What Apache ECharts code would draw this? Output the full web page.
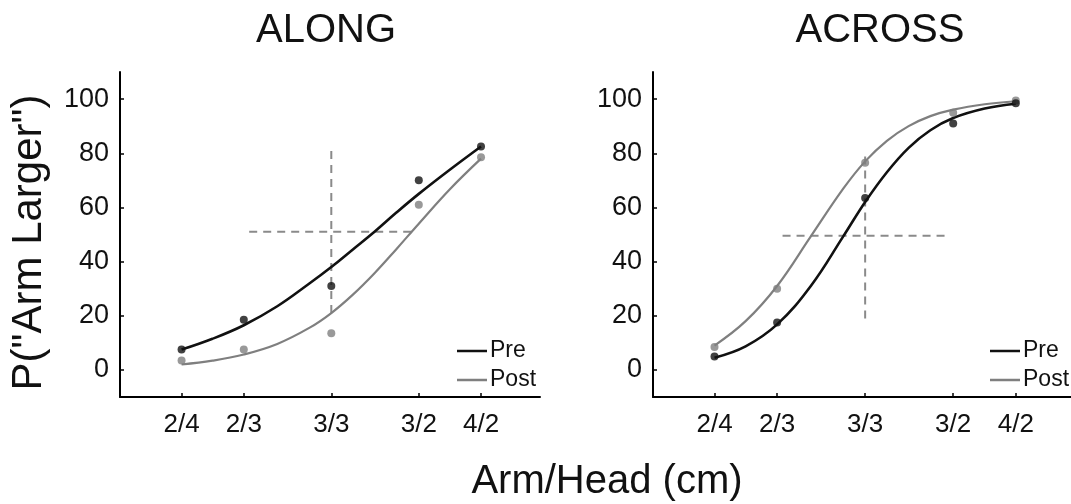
<!DOCTYPE html>
<html>
<head>
<meta charset="utf-8">
<script src="https://cdn.jsdelivr.net/npm/echarts@6/dist/echarts.min.js"></script>
<style>
html,body{margin:0;padding:0;background:#fff;}
#chart{width:1071px;height:504px;}
</style>
</head>
<body>
<div id="chart"></div>
<script>
// Arm/Head ratio categories and their positions on a log (ln) axis
const ratioLabels = ['2/4', '2/3', '3/3', '3/2', '4/2'];
const ratioPos = [-0.693, -0.405, 0, 0.405, 0.693];
const yTicks = [0, 20, 40, 60, 80, 100];

// observed proportions (%)
const alongPre = [7.5, 18.5, 31, 70, 82.5];
const alongPost = [3.5, 7.5, 13.5, 61, 78.5];
const acrossPre = [5, 17.5, 63.5, 91, 98.5];
const acrossPost = [8.5, 30, 76.5, 95, 99.5];

// fitted psychometric curves at these positions
const curveX = [-0.693, -0.55, -0.405, -0.25, -0.1, 0, 0.1, 0.2, 0.3, 0.405, 0.55, 0.693];
const alongPreFit = [7.5, 11.5, 16.5, 23.5, 32, 38, 44.5, 51, 58, 65, 74, 82.5];
const alongPostFit = [2, 3.4, 5.7, 9.6, 15.6, 21, 27.8, 35.7, 44.5, 54, 66.8, 78];
const acrossPreFit = [4.5, 8.7, 16.8, 31, 49.4, 62, 73, 82, 88.5, 93, 96.5, 98.3];
const acrossPostFit = [9, 18, 31, 49.3, 67, 77, 84.6, 90, 93.7, 96.1, 98.1, 99.2];

// dashed reference lines: [xStart, xEnd, y] and [x, yStart, yEnd]
const alongRefH = [-0.38, 0.38, 51];
const alongRefV = [0, 21, 82];
const acrossRefH = [-0.38, 0.39, 49.5];
const acrossRefV = [0, 19, 80];

const FONT = '"Liberation Sans", Arial, Helvetica, sans-serif';
const PRE_COLOR = '#111111';
const POST_COLOR = '#7f7f7f';
const DASH_COLOR = '#8a8a8a';

const pair = (xs, ys) => xs.map((x, i) => [x, ys[i]]);

function xAxisFor(gridIndex, min, max) {
  return {
    type: 'value', gridIndex, min, max,
    axisLine: { show: true, onZero: false, lineStyle: { color: '#000', width: 2 } },
    axisTick: { show: true, inside: true, length: 4, customValues: ratioPos, lineStyle: { color: '#000', width: 1.5 } },
    axisLabel: {
      show: true, customValues: ratioPos, margin: 15,
      fontFamily: FONT, fontSize: 26, color: '#111',
      formatter: v => {
        const i = ratioPos.findIndex(p => Math.abs(p - v) < 1e-6);
        return i >= 0 ? ratioLabels[i] : '';
      }
    },
    splitLine: { show: false }
  };
}

function yAxisFor(gridIndex, withName) {
  const ax = {
    type: 'value', gridIndex, min: -10, max: 110,
    axisLine: { show: true, onZero: false, lineStyle: { color: '#000', width: 2 } },
    axisTick: { show: true, inside: true, length: 4, customValues: yTicks, lineStyle: { color: '#000', width: 1.5 } },
    axisLabel: { show: true, customValues: yTicks, margin: 11, fontFamily: FONT, fontSize: 27, color: '#111' },
    splitLine: { show: false }
  };
  if (withName) {
    ax.name = 'P("Arm Larger")';
    ax.nameLocation = 'middle';
    ax.nameRotate = 90;
    ax.nameGap = 70;
    ax.nameTextStyle = { fontFamily: FONT, fontSize: 42, color: '#111', padding: [0, 16, 0, 0] };
  }
  return ax;
}

function panelSeries(idx, preFit, postFit, pre, post, refH, refV) {
  const base = { xAxisIndex: idx, yAxisIndex: idx, animation: false };
  return [
    Object.assign({}, base, {
      name: 'Pre', type: 'line', smooth: 0.4, showSymbol: false, symbol: 'none',
      data: pair(curveX, preFit), color: PRE_COLOR,
      lineStyle: { color: PRE_COLOR, width: 2.6 }, z: 3
    }),
    Object.assign({}, base, {
      name: 'Post', type: 'line', smooth: 0.4, showSymbol: false, symbol: 'none',
      data: pair(curveX, postFit), color: POST_COLOR,
      lineStyle: { color: POST_COLOR, width: 2.2 }, z: 2
    }),
    Object.assign({}, base, {
      name: 'ref-h-' + idx, type: 'line', showSymbol: false, symbol: 'none',
      data: [[refH[0], refH[2]], [refH[1], refH[2]]],
      lineStyle: { color: DASH_COLOR, width: 2, type: [8, 6] }, z: 1
    }),
    Object.assign({}, base, {
      name: 'ref-v-' + idx, type: 'line', showSymbol: false, symbol: 'none',
      data: [[refV[0], refV[1]], [refV[0], refV[2]]],
      lineStyle: { color: DASH_COLOR, width: 2, type: [8, 6] }, z: 1
    }),
    Object.assign({}, base, {
      name: 'Post data ' + idx, type: 'scatter', symbol: 'circle', symbolSize: 8,
      data: pair(ratioPos, post), itemStyle: { color: POST_COLOR }, z: 4
    }),
    Object.assign({}, base, {
      name: 'Pre data ' + idx, type: 'scatter', symbol: 'circle', symbolSize: 8,
      data: pair(ratioPos, pre), itemStyle: { color: PRE_COLOR }, z: 5
    })
  ];
}

function legendAt(left) {
  return {
    left, top: 334, orient: 'vertical', itemWidth: 30, itemHeight: 2.5, itemGap: 5,
    selectedMode: false,
    textStyle: { fontFamily: FONT, fontSize: 23, color: '#111', lineHeight: 24, padding: [0, 0, 0, -2] },
    data: [{ name: 'Pre', icon: 'rect' }, { name: 'Post', icon: 'rect' }]
  };
}

const chart = echarts.init(document.getElementById('chart'), null, { renderer: 'canvas' });
chart.setOption({
  backgroundColor: '#ffffff',
  animation: false,
  title: [
    { text: 'ALONG', left: 321, top: 6, textAlign: 'center', textStyle: { fontFamily: FONT, fontSize: 40, fontWeight: 'normal', color: '#111' } },
    { text: 'ACROSS', left: 875, top: 6, textAlign: 'center', textStyle: { fontFamily: FONT, fontSize: 40, fontWeight: 'normal', color: '#111' } },
    { text: 'Arm/Head (cm)', left: 602, top: 457, textAlign: 'center', textStyle: { fontFamily: FONT, fontSize: 40, fontWeight: 'normal', color: '#111' } }
  ],
  legend: [legendAt(452), legendAt(985)],
  grid: [
    { left: 120, width: 420, top: 72, height: 325, outerBoundsMode: 'none', containLabel: false },
    { left: 653, width: 418, top: 72, height: 325, outerBoundsMode: 'none', containLabel: false }
  ],
  xAxis: [xAxisFor(0, -0.978, 0.966), xAxisFor(1, -0.976, 0.947)],
  yAxis: [yAxisFor(0, true), yAxisFor(1, false)],
  series: [].concat(
    panelSeries(0, alongPreFit, alongPostFit, alongPre, alongPost, alongRefH, alongRefV),
    panelSeries(1, acrossPreFit, acrossPostFit, acrossPre, acrossPost, acrossRefH, acrossRefV)
  )
});
</script>
</body>
</html>
